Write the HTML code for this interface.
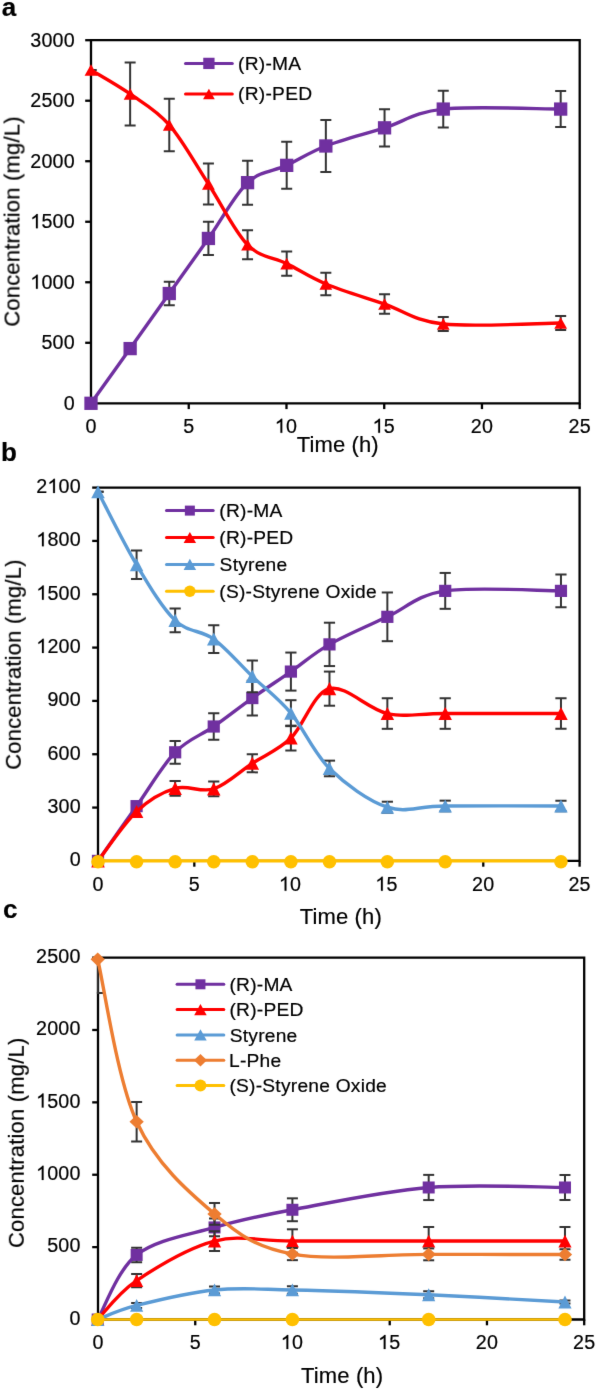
<!DOCTYPE html>
<html><head><meta charset="utf-8"><style>
html,body{margin:0;padding:0;background:#fff;overflow:hidden;}
svg{display:block;font-family:"Liberation Sans", sans-serif;}
text{will-change:transform;stroke:#000;stroke-width:0.2px;}
</style></head><body>
<svg width="597" height="1390" viewBox="0 0 597 1390">
<defs><filter id="bl" filterUnits="userSpaceOnUse" x="0" y="0" width="597" height="1390" color-interpolation-filters="sRGB"><feConvolveMatrix order="3" kernelMatrix="0.00524 0.06192 0.00524 0.06192 0.73137 0.06192 0.00524 0.06192 0.00524" divisor="1" preserveAlpha="false"/></filter></defs>
<g filter="url(#bl)">
<rect width="597" height="1390" fill="#fff"/>
<path d="M91.00,40.20 H579.70 V403.30 H91.00 Z" fill="none" stroke="#000" stroke-width="2.3"/>
<line x1="85.20" y1="403.30" x2="91.00" y2="403.30" stroke="#000" stroke-width="2.3" stroke-linecap="butt"/>
<line x1="85.20" y1="342.78" x2="91.00" y2="342.78" stroke="#000" stroke-width="2.3" stroke-linecap="butt"/>
<line x1="85.20" y1="282.27" x2="91.00" y2="282.27" stroke="#000" stroke-width="2.3" stroke-linecap="butt"/>
<line x1="85.20" y1="221.75" x2="91.00" y2="221.75" stroke="#000" stroke-width="2.3" stroke-linecap="butt"/>
<line x1="85.20" y1="161.23" x2="91.00" y2="161.23" stroke="#000" stroke-width="2.3" stroke-linecap="butt"/>
<line x1="85.20" y1="100.72" x2="91.00" y2="100.72" stroke="#000" stroke-width="2.3" stroke-linecap="butt"/>
<line x1="85.20" y1="40.20" x2="91.00" y2="40.20" stroke="#000" stroke-width="2.3" stroke-linecap="butt"/>
<line x1="91.00" y1="403.30" x2="91.00" y2="409.10" stroke="#000" stroke-width="2.3" stroke-linecap="butt"/>
<line x1="188.74" y1="403.30" x2="188.74" y2="409.10" stroke="#000" stroke-width="2.3" stroke-linecap="butt"/>
<line x1="286.48" y1="403.30" x2="286.48" y2="409.10" stroke="#000" stroke-width="2.3" stroke-linecap="butt"/>
<line x1="384.22" y1="403.30" x2="384.22" y2="409.10" stroke="#000" stroke-width="2.3" stroke-linecap="butt"/>
<line x1="481.96" y1="403.30" x2="481.96" y2="409.10" stroke="#000" stroke-width="2.3" stroke-linecap="butt"/>
<line x1="579.70" y1="403.30" x2="579.70" y2="409.10" stroke="#000" stroke-width="2.3" stroke-linecap="butt"/>
<clipPath id="ca"><rect x="89.85" y="40.20" width="491.00" height="363.10"/></clipPath>
<g clip-path="url(#ca)">
<line x1="169.28" y1="281.78" x2="169.28" y2="305.26" stroke="#333333" stroke-width="2" stroke-linecap="butt"/>
<line x1="163.78" y1="281.78" x2="174.78" y2="281.78" stroke="#333333" stroke-width="2" stroke-linecap="butt"/>
<line x1="163.78" y1="305.26" x2="174.78" y2="305.26" stroke="#333333" stroke-width="2" stroke-linecap="butt"/>
<line x1="208.42" y1="221.87" x2="208.42" y2="255.03" stroke="#333333" stroke-width="2" stroke-linecap="butt"/>
<line x1="202.92" y1="221.87" x2="213.92" y2="221.87" stroke="#333333" stroke-width="2" stroke-linecap="butt"/>
<line x1="202.92" y1="255.03" x2="213.92" y2="255.03" stroke="#333333" stroke-width="2" stroke-linecap="butt"/>
<line x1="247.56" y1="160.63" x2="247.56" y2="204.68" stroke="#333333" stroke-width="2" stroke-linecap="butt"/>
<line x1="242.06" y1="160.63" x2="253.06" y2="160.63" stroke="#333333" stroke-width="2" stroke-linecap="butt"/>
<line x1="242.06" y1="204.68" x2="253.06" y2="204.68" stroke="#333333" stroke-width="2" stroke-linecap="butt"/>
<line x1="286.70" y1="141.87" x2="286.70" y2="188.83" stroke="#333333" stroke-width="2" stroke-linecap="butt"/>
<line x1="281.20" y1="141.87" x2="292.20" y2="141.87" stroke="#333333" stroke-width="2" stroke-linecap="butt"/>
<line x1="281.20" y1="188.83" x2="292.20" y2="188.83" stroke="#333333" stroke-width="2" stroke-linecap="butt"/>
<line x1="325.84" y1="119.96" x2="325.84" y2="172.01" stroke="#333333" stroke-width="2" stroke-linecap="butt"/>
<line x1="320.34" y1="119.96" x2="331.34" y2="119.96" stroke="#333333" stroke-width="2" stroke-linecap="butt"/>
<line x1="320.34" y1="172.01" x2="331.34" y2="172.01" stroke="#333333" stroke-width="2" stroke-linecap="butt"/>
<line x1="384.55" y1="109.19" x2="384.55" y2="146.47" stroke="#333333" stroke-width="2" stroke-linecap="butt"/>
<line x1="379.05" y1="109.19" x2="390.05" y2="109.19" stroke="#333333" stroke-width="2" stroke-linecap="butt"/>
<line x1="379.05" y1="146.47" x2="390.05" y2="146.47" stroke="#333333" stroke-width="2" stroke-linecap="butt"/>
<line x1="443.26" y1="90.67" x2="443.26" y2="127.47" stroke="#333333" stroke-width="2" stroke-linecap="butt"/>
<line x1="437.76" y1="90.67" x2="448.76" y2="90.67" stroke="#333333" stroke-width="2" stroke-linecap="butt"/>
<line x1="437.76" y1="127.47" x2="448.76" y2="127.47" stroke="#333333" stroke-width="2" stroke-linecap="butt"/>
<line x1="560.68" y1="91.03" x2="560.68" y2="127.10" stroke="#333333" stroke-width="2" stroke-linecap="butt"/>
<line x1="555.18" y1="91.03" x2="566.18" y2="91.03" stroke="#333333" stroke-width="2" stroke-linecap="butt"/>
<line x1="555.18" y1="127.10" x2="566.18" y2="127.10" stroke="#333333" stroke-width="2" stroke-linecap="butt"/>
</g>
<path d="M91.00,403.30 C97.52,394.18 117.09,366.89 130.14,348.59 C143.19,330.30 156.23,311.88 169.28,293.52 C182.33,275.17 195.37,256.93 208.42,238.45 C221.47,219.97 234.51,194.84 247.56,182.66 C260.61,170.47 273.65,171.46 286.70,165.35 C299.75,159.24 309.53,152.24 325.84,145.98 C342.15,139.73 364.98,133.98 384.55,127.83 C404.12,121.68 413.90,112.19 443.26,109.07 C472.62,105.94 541.11,109.07 560.68,109.07" fill="none" stroke="#7030A0" stroke-width="3.4" stroke-linejoin="round"/>
<rect x="84.35" y="396.65" width="13.3" height="13.3" fill="#7030A0"/>
<rect x="123.49" y="341.94" width="13.3" height="13.3" fill="#7030A0"/>
<rect x="162.63" y="286.87" width="13.3" height="13.3" fill="#7030A0"/>
<rect x="201.77" y="231.80" width="13.3" height="13.3" fill="#7030A0"/>
<rect x="240.91" y="176.01" width="13.3" height="13.3" fill="#7030A0"/>
<rect x="280.05" y="158.70" width="13.3" height="13.3" fill="#7030A0"/>
<rect x="319.19" y="139.33" width="13.3" height="13.3" fill="#7030A0"/>
<rect x="377.90" y="121.18" width="13.3" height="13.3" fill="#7030A0"/>
<rect x="436.61" y="102.42" width="13.3" height="13.3" fill="#7030A0"/>
<rect x="554.03" y="102.42" width="13.3" height="13.3" fill="#7030A0"/>
<g clip-path="url(#ca)">
<line x1="91.00" y1="69.97" x2="91.00" y2="69.98" stroke="#333333" stroke-width="2" stroke-linecap="butt"/>
<line x1="85.50" y1="69.97" x2="96.50" y2="69.97" stroke="#333333" stroke-width="2" stroke-linecap="butt"/>
<line x1="85.50" y1="69.98" x2="96.50" y2="69.98" stroke="#333333" stroke-width="2" stroke-linecap="butt"/>
<line x1="130.14" y1="62.47" x2="130.14" y2="125.41" stroke="#333333" stroke-width="2" stroke-linecap="butt"/>
<line x1="124.64" y1="62.47" x2="135.64" y2="62.47" stroke="#333333" stroke-width="2" stroke-linecap="butt"/>
<line x1="124.64" y1="125.41" x2="135.64" y2="125.41" stroke="#333333" stroke-width="2" stroke-linecap="butt"/>
<line x1="169.28" y1="98.66" x2="169.28" y2="151.19" stroke="#333333" stroke-width="2" stroke-linecap="butt"/>
<line x1="163.78" y1="98.66" x2="174.78" y2="98.66" stroke="#333333" stroke-width="2" stroke-linecap="butt"/>
<line x1="163.78" y1="151.19" x2="174.78" y2="151.19" stroke="#333333" stroke-width="2" stroke-linecap="butt"/>
<line x1="208.42" y1="163.41" x2="208.42" y2="204.56" stroke="#333333" stroke-width="2" stroke-linecap="butt"/>
<line x1="202.92" y1="163.41" x2="213.92" y2="163.41" stroke="#333333" stroke-width="2" stroke-linecap="butt"/>
<line x1="202.92" y1="204.56" x2="213.92" y2="204.56" stroke="#333333" stroke-width="2" stroke-linecap="butt"/>
<line x1="247.56" y1="230.22" x2="247.56" y2="259.27" stroke="#333333" stroke-width="2" stroke-linecap="butt"/>
<line x1="242.06" y1="230.22" x2="253.06" y2="230.22" stroke="#333333" stroke-width="2" stroke-linecap="butt"/>
<line x1="242.06" y1="259.27" x2="253.06" y2="259.27" stroke="#333333" stroke-width="2" stroke-linecap="butt"/>
<line x1="286.70" y1="251.52" x2="286.70" y2="275.73" stroke="#333333" stroke-width="2" stroke-linecap="butt"/>
<line x1="281.20" y1="251.52" x2="292.20" y2="251.52" stroke="#333333" stroke-width="2" stroke-linecap="butt"/>
<line x1="281.20" y1="275.73" x2="292.20" y2="275.73" stroke="#333333" stroke-width="2" stroke-linecap="butt"/>
<line x1="325.84" y1="272.71" x2="325.84" y2="295.22" stroke="#333333" stroke-width="2" stroke-linecap="butt"/>
<line x1="320.34" y1="272.71" x2="331.34" y2="272.71" stroke="#333333" stroke-width="2" stroke-linecap="butt"/>
<line x1="320.34" y1="295.22" x2="331.34" y2="295.22" stroke="#333333" stroke-width="2" stroke-linecap="butt"/>
<line x1="384.55" y1="294.37" x2="384.55" y2="313.74" stroke="#333333" stroke-width="2" stroke-linecap="butt"/>
<line x1="379.05" y1="294.37" x2="390.05" y2="294.37" stroke="#333333" stroke-width="2" stroke-linecap="butt"/>
<line x1="379.05" y1="313.74" x2="390.05" y2="313.74" stroke="#333333" stroke-width="2" stroke-linecap="butt"/>
<line x1="443.26" y1="317.00" x2="443.26" y2="331.04" stroke="#333333" stroke-width="2" stroke-linecap="butt"/>
<line x1="437.76" y1="317.00" x2="448.76" y2="317.00" stroke="#333333" stroke-width="2" stroke-linecap="butt"/>
<line x1="437.76" y1="331.04" x2="448.76" y2="331.04" stroke="#333333" stroke-width="2" stroke-linecap="butt"/>
<line x1="560.68" y1="316.03" x2="560.68" y2="330.07" stroke="#333333" stroke-width="2" stroke-linecap="butt"/>
<line x1="555.18" y1="316.03" x2="566.18" y2="316.03" stroke="#333333" stroke-width="2" stroke-linecap="butt"/>
<line x1="555.18" y1="330.07" x2="566.18" y2="330.07" stroke="#333333" stroke-width="2" stroke-linecap="butt"/>
</g>
<path d="M91.00,69.97 C97.52,73.97 117.09,84.78 130.14,93.94 C143.19,103.10 156.23,109.92 169.28,124.92 C182.33,139.93 195.37,164.02 208.42,183.99 C221.47,203.96 234.51,231.47 247.56,244.75 C260.61,258.02 273.65,257.09 286.70,263.63 C299.75,270.16 309.53,277.22 325.84,283.96 C342.15,290.70 364.98,297.38 384.55,304.05 C404.12,310.73 413.90,320.86 443.26,324.02 C472.62,327.19 541.11,323.22 560.68,323.05" fill="none" stroke="#FF0000" stroke-width="3.4" stroke-linejoin="round"/>
<path d="M91.00,64.21 L97.40,75.73 L84.60,75.73Z" fill="#FF0000"/>
<path d="M130.14,88.18 L136.54,99.70 L123.74,99.70Z" fill="#FF0000"/>
<path d="M169.28,119.16 L175.68,130.68 L162.88,130.68Z" fill="#FF0000"/>
<path d="M208.42,178.23 L214.82,189.75 L202.02,189.75Z" fill="#FF0000"/>
<path d="M247.56,238.99 L253.96,250.51 L241.16,250.51Z" fill="#FF0000"/>
<path d="M286.70,257.87 L293.10,269.39 L280.30,269.39Z" fill="#FF0000"/>
<path d="M325.84,278.20 L332.24,289.72 L319.44,289.72Z" fill="#FF0000"/>
<path d="M384.55,298.29 L390.95,309.81 L378.15,309.81Z" fill="#FF0000"/>
<path d="M443.26,318.26 L449.66,329.78 L436.86,329.78Z" fill="#FF0000"/>
<path d="M560.68,317.29 L567.08,328.81 L554.28,328.81Z" fill="#FF0000"/>
<text x="63.72" y="409.78" font-size="19.7" fill="#000">0</text>
<text x="41.40" y="349.26" font-size="19.7" fill="#000">5</text>
<text x="52.56" y="349.26" font-size="19.7" fill="#000">0</text>
<text x="63.72" y="349.26" font-size="19.7" fill="#000">0</text>
<path transform="translate(30.25,288.74) scale(19.7)" d="M0.381,0 V-0.716 H0.323 Q0.29,-0.64 0.109,-0.545 V-0.458 Q0.21,-0.5 0.291,-0.566 V0 Z" fill="#000" stroke="#000" stroke-width="0.0102"/>
<text x="41.40" y="288.74" font-size="19.7" fill="#000">0</text>
<text x="52.56" y="288.74" font-size="19.7" fill="#000">0</text>
<text x="63.72" y="288.74" font-size="19.7" fill="#000">0</text>
<path transform="translate(30.25,228.23) scale(19.7)" d="M0.381,0 V-0.716 H0.323 Q0.29,-0.64 0.109,-0.545 V-0.458 Q0.21,-0.5 0.291,-0.566 V0 Z" fill="#000" stroke="#000" stroke-width="0.0102"/>
<text x="41.40" y="228.23" font-size="19.7" fill="#000">5</text>
<text x="52.56" y="228.23" font-size="19.7" fill="#000">0</text>
<text x="63.72" y="228.23" font-size="19.7" fill="#000">0</text>
<text x="30.25" y="167.71" font-size="19.7" fill="#000">2</text>
<text x="41.40" y="167.71" font-size="19.7" fill="#000">0</text>
<text x="52.56" y="167.71" font-size="19.7" fill="#000">0</text>
<text x="63.72" y="167.71" font-size="19.7" fill="#000">0</text>
<text x="30.25" y="107.19" font-size="19.7" fill="#000">2</text>
<text x="41.40" y="107.19" font-size="19.7" fill="#000">5</text>
<text x="52.56" y="107.19" font-size="19.7" fill="#000">0</text>
<text x="63.72" y="107.19" font-size="19.7" fill="#000">0</text>
<text x="30.25" y="46.68" font-size="19.7" fill="#000">3</text>
<text x="41.40" y="46.68" font-size="19.7" fill="#000">0</text>
<text x="52.56" y="46.68" font-size="19.7" fill="#000">0</text>
<text x="63.72" y="46.68" font-size="19.7" fill="#000">0</text>
<text x="85.52" y="432.85" font-size="19.7" fill="#000">0</text>
<text x="183.28" y="432.85" font-size="19.7" fill="#000">5</text>
<path transform="translate(274.74,432.85) scale(19.7)" d="M0.381,0 V-0.716 H0.323 Q0.29,-0.64 0.109,-0.545 V-0.458 Q0.21,-0.5 0.291,-0.566 V0 Z" fill="#000" stroke="#000" stroke-width="0.0102"/>
<text x="285.89" y="432.85" font-size="19.7" fill="#000">0</text>
<path transform="translate(372.51,432.85) scale(19.7)" d="M0.381,0 V-0.716 H0.323 Q0.29,-0.64 0.109,-0.545 V-0.458 Q0.21,-0.5 0.291,-0.566 V0 Z" fill="#000" stroke="#000" stroke-width="0.0102"/>
<text x="383.66" y="432.85" font-size="19.7" fill="#000">5</text>
<text x="470.80" y="432.85" font-size="19.7" fill="#000">2</text>
<text x="481.95" y="432.85" font-size="19.7" fill="#000">0</text>
<text x="568.57" y="432.85" font-size="19.7" fill="#000">2</text>
<text x="579.72" y="432.85" font-size="19.7" fill="#000">5</text>
<line x1="185.50" y1="63.40" x2="232.30" y2="63.40" stroke="#7030A0" stroke-width="3" stroke-linecap="round"/>
<rect x="203.25" y="57.75" width="11.3" height="11.3" fill="#7030A0"/>
<text x="238.11" y="69.80" font-size="19.2" letter-spacing="0.24" fill="#000">(R)-MA</text>
<line x1="185.50" y1="94.00" x2="232.30" y2="94.00" stroke="#FF0000" stroke-width="3" stroke-linecap="round"/>
<path d="M208.90,88.73 L214.75,99.27 L203.05,99.27Z" fill="#FF0000"/>
<text x="238.11" y="100.40" font-size="19.2" letter-spacing="0.24" fill="#000">(R)-PED</text>
<path d="M98.00,487.60 H579.60 V860.90 H98.00 Z" fill="none" stroke="#000" stroke-width="2.3"/>
<line x1="92.20" y1="860.90" x2="98.00" y2="860.90" stroke="#000" stroke-width="2.3" stroke-linecap="butt"/>
<line x1="92.20" y1="807.57" x2="98.00" y2="807.57" stroke="#000" stroke-width="2.3" stroke-linecap="butt"/>
<line x1="92.20" y1="754.24" x2="98.00" y2="754.24" stroke="#000" stroke-width="2.3" stroke-linecap="butt"/>
<line x1="92.20" y1="700.91" x2="98.00" y2="700.91" stroke="#000" stroke-width="2.3" stroke-linecap="butt"/>
<line x1="92.20" y1="647.59" x2="98.00" y2="647.59" stroke="#000" stroke-width="2.3" stroke-linecap="butt"/>
<line x1="92.20" y1="594.26" x2="98.00" y2="594.26" stroke="#000" stroke-width="2.3" stroke-linecap="butt"/>
<line x1="92.20" y1="540.93" x2="98.00" y2="540.93" stroke="#000" stroke-width="2.3" stroke-linecap="butt"/>
<line x1="92.20" y1="487.60" x2="98.00" y2="487.60" stroke="#000" stroke-width="2.3" stroke-linecap="butt"/>
<line x1="98.00" y1="860.90" x2="98.00" y2="866.70" stroke="#000" stroke-width="2.3" stroke-linecap="butt"/>
<line x1="194.32" y1="860.90" x2="194.32" y2="866.70" stroke="#000" stroke-width="2.3" stroke-linecap="butt"/>
<line x1="290.64" y1="860.90" x2="290.64" y2="866.70" stroke="#000" stroke-width="2.3" stroke-linecap="butt"/>
<line x1="386.96" y1="860.90" x2="386.96" y2="866.70" stroke="#000" stroke-width="2.3" stroke-linecap="butt"/>
<line x1="483.28" y1="860.90" x2="483.28" y2="866.70" stroke="#000" stroke-width="2.3" stroke-linecap="butt"/>
<line x1="579.60" y1="860.90" x2="579.60" y2="866.70" stroke="#000" stroke-width="2.3" stroke-linecap="butt"/>
<clipPath id="cb"><rect x="96.85" y="487.60" width="483.90" height="373.30"/></clipPath>
<g clip-path="url(#cb)">
<line x1="175.16" y1="740.91" x2="175.16" y2="763.66" stroke="#333333" stroke-width="2" stroke-linecap="butt"/>
<line x1="169.56" y1="740.91" x2="180.76" y2="740.91" stroke="#333333" stroke-width="2" stroke-linecap="butt"/>
<line x1="169.56" y1="763.66" x2="180.76" y2="763.66" stroke="#333333" stroke-width="2" stroke-linecap="butt"/>
<line x1="213.74" y1="713.18" x2="213.74" y2="739.84" stroke="#333333" stroke-width="2" stroke-linecap="butt"/>
<line x1="208.14" y1="713.18" x2="219.34" y2="713.18" stroke="#333333" stroke-width="2" stroke-linecap="butt"/>
<line x1="208.14" y1="739.84" x2="219.34" y2="739.84" stroke="#333333" stroke-width="2" stroke-linecap="butt"/>
<line x1="252.32" y1="680.65" x2="252.32" y2="715.49" stroke="#333333" stroke-width="2" stroke-linecap="butt"/>
<line x1="246.72" y1="680.65" x2="257.92" y2="680.65" stroke="#333333" stroke-width="2" stroke-linecap="butt"/>
<line x1="246.72" y1="715.49" x2="257.92" y2="715.49" stroke="#333333" stroke-width="2" stroke-linecap="butt"/>
<line x1="290.90" y1="652.56" x2="290.90" y2="690.60" stroke="#333333" stroke-width="2" stroke-linecap="butt"/>
<line x1="285.30" y1="652.56" x2="296.50" y2="652.56" stroke="#333333" stroke-width="2" stroke-linecap="butt"/>
<line x1="285.30" y1="690.60" x2="296.50" y2="690.60" stroke="#333333" stroke-width="2" stroke-linecap="butt"/>
<line x1="329.48" y1="622.70" x2="329.48" y2="666.07" stroke="#333333" stroke-width="2" stroke-linecap="butt"/>
<line x1="323.88" y1="622.70" x2="335.08" y2="622.70" stroke="#333333" stroke-width="2" stroke-linecap="butt"/>
<line x1="323.88" y1="666.07" x2="335.08" y2="666.07" stroke="#333333" stroke-width="2" stroke-linecap="butt"/>
<line x1="387.35" y1="592.48" x2="387.35" y2="641.19" stroke="#333333" stroke-width="2" stroke-linecap="butt"/>
<line x1="381.75" y1="592.48" x2="392.95" y2="592.48" stroke="#333333" stroke-width="2" stroke-linecap="butt"/>
<line x1="381.75" y1="641.19" x2="392.95" y2="641.19" stroke="#333333" stroke-width="2" stroke-linecap="butt"/>
<line x1="445.22" y1="572.93" x2="445.22" y2="608.83" stroke="#333333" stroke-width="2" stroke-linecap="butt"/>
<line x1="439.62" y1="572.93" x2="450.82" y2="572.93" stroke="#333333" stroke-width="2" stroke-linecap="butt"/>
<line x1="439.62" y1="608.83" x2="450.82" y2="608.83" stroke="#333333" stroke-width="2" stroke-linecap="butt"/>
<line x1="560.96" y1="574.53" x2="560.96" y2="607.23" stroke="#333333" stroke-width="2" stroke-linecap="butt"/>
<line x1="555.36" y1="574.53" x2="566.56" y2="574.53" stroke="#333333" stroke-width="2" stroke-linecap="butt"/>
<line x1="555.36" y1="607.23" x2="566.56" y2="607.23" stroke="#333333" stroke-width="2" stroke-linecap="butt"/>
</g>
<path d="M98.00,860.90 C104.43,851.77 123.72,824.25 136.58,806.15 C149.44,788.05 162.30,765.56 175.16,752.29 C188.02,739.01 200.88,735.55 213.74,726.51 C226.60,717.48 239.46,707.22 252.32,698.07 C265.18,688.92 278.04,680.53 290.90,671.58 C303.76,662.64 313.41,653.51 329.48,644.39 C345.56,635.26 368.06,625.75 387.35,616.83 C406.64,607.92 416.28,595.21 445.22,590.88 C474.15,586.55 541.67,590.88 560.96,590.88" fill="none" stroke="#7030A0" stroke-width="3.4" stroke-linejoin="round"/>
<rect x="91.90" y="854.80" width="12.2" height="12.2" fill="#7030A0"/>
<rect x="130.48" y="800.05" width="12.2" height="12.2" fill="#7030A0"/>
<rect x="169.06" y="746.19" width="12.2" height="12.2" fill="#7030A0"/>
<rect x="207.64" y="720.41" width="12.2" height="12.2" fill="#7030A0"/>
<rect x="246.22" y="691.97" width="12.2" height="12.2" fill="#7030A0"/>
<rect x="284.80" y="665.48" width="12.2" height="12.2" fill="#7030A0"/>
<rect x="323.38" y="638.29" width="12.2" height="12.2" fill="#7030A0"/>
<rect x="381.25" y="610.73" width="12.2" height="12.2" fill="#7030A0"/>
<rect x="439.12" y="584.78" width="12.2" height="12.2" fill="#7030A0"/>
<rect x="554.86" y="584.78" width="12.2" height="12.2" fill="#7030A0"/>
<g clip-path="url(#cb)">
<line x1="175.16" y1="780.91" x2="175.16" y2="795.84" stroke="#333333" stroke-width="2" stroke-linecap="butt"/>
<line x1="169.56" y1="780.91" x2="180.76" y2="780.91" stroke="#333333" stroke-width="2" stroke-linecap="butt"/>
<line x1="169.56" y1="795.84" x2="180.76" y2="795.84" stroke="#333333" stroke-width="2" stroke-linecap="butt"/>
<line x1="213.74" y1="781.62" x2="213.74" y2="796.19" stroke="#333333" stroke-width="2" stroke-linecap="butt"/>
<line x1="208.14" y1="781.62" x2="219.34" y2="781.62" stroke="#333333" stroke-width="2" stroke-linecap="butt"/>
<line x1="208.14" y1="796.19" x2="219.34" y2="796.19" stroke="#333333" stroke-width="2" stroke-linecap="butt"/>
<line x1="252.32" y1="754.24" x2="252.32" y2="772.37" stroke="#333333" stroke-width="2" stroke-linecap="butt"/>
<line x1="246.72" y1="754.24" x2="257.92" y2="754.24" stroke="#333333" stroke-width="2" stroke-linecap="butt"/>
<line x1="246.72" y1="772.37" x2="257.92" y2="772.37" stroke="#333333" stroke-width="2" stroke-linecap="butt"/>
<line x1="290.90" y1="725.62" x2="290.90" y2="750.51" stroke="#333333" stroke-width="2" stroke-linecap="butt"/>
<line x1="285.30" y1="725.62" x2="296.50" y2="725.62" stroke="#333333" stroke-width="2" stroke-linecap="butt"/>
<line x1="285.30" y1="750.51" x2="296.50" y2="750.51" stroke="#333333" stroke-width="2" stroke-linecap="butt"/>
<line x1="329.48" y1="671.58" x2="329.48" y2="705.71" stroke="#333333" stroke-width="2" stroke-linecap="butt"/>
<line x1="323.88" y1="671.58" x2="335.08" y2="671.58" stroke="#333333" stroke-width="2" stroke-linecap="butt"/>
<line x1="323.88" y1="705.71" x2="335.08" y2="705.71" stroke="#333333" stroke-width="2" stroke-linecap="butt"/>
<line x1="387.35" y1="698.25" x2="387.35" y2="728.82" stroke="#333333" stroke-width="2" stroke-linecap="butt"/>
<line x1="381.75" y1="698.25" x2="392.95" y2="698.25" stroke="#333333" stroke-width="2" stroke-linecap="butt"/>
<line x1="381.75" y1="728.82" x2="392.95" y2="728.82" stroke="#333333" stroke-width="2" stroke-linecap="butt"/>
<line x1="445.22" y1="698.25" x2="445.22" y2="728.82" stroke="#333333" stroke-width="2" stroke-linecap="butt"/>
<line x1="439.62" y1="698.25" x2="450.82" y2="698.25" stroke="#333333" stroke-width="2" stroke-linecap="butt"/>
<line x1="439.62" y1="728.82" x2="450.82" y2="728.82" stroke="#333333" stroke-width="2" stroke-linecap="butt"/>
<line x1="560.96" y1="698.25" x2="560.96" y2="728.82" stroke="#333333" stroke-width="2" stroke-linecap="butt"/>
<line x1="555.36" y1="698.25" x2="566.56" y2="698.25" stroke="#333333" stroke-width="2" stroke-linecap="butt"/>
<line x1="555.36" y1="728.82" x2="566.56" y2="728.82" stroke="#333333" stroke-width="2" stroke-linecap="butt"/>
</g>
<path d="M98.00,860.90 C104.43,852.66 123.72,823.57 136.58,811.48 C149.44,799.39 162.30,792.14 175.16,788.37 C188.02,784.61 200.88,793.08 213.74,788.91 C226.60,784.73 239.46,771.78 252.32,763.31 C265.18,754.84 278.04,750.51 290.90,738.07 C303.76,725.62 313.41,692.74 329.48,688.65 C345.56,684.56 368.06,709.39 387.35,713.54 C406.64,717.68 416.28,713.54 445.22,713.54 C474.15,713.54 541.67,713.54 560.96,713.54" fill="none" stroke="#FF0000" stroke-width="3.4" stroke-linejoin="round"/>
<path d="M98.00,854.35 L104.75,867.45 L91.25,867.45Z" fill="#FF0000"/>
<path d="M136.58,804.93 L143.33,818.03 L129.83,818.03Z" fill="#FF0000"/>
<path d="M175.16,781.83 L181.91,794.92 L168.41,794.92Z" fill="#FF0000"/>
<path d="M213.74,782.36 L220.49,795.45 L206.99,795.45Z" fill="#FF0000"/>
<path d="M252.32,756.76 L259.07,769.86 L245.57,769.86Z" fill="#FF0000"/>
<path d="M290.90,731.52 L297.65,744.61 L284.15,744.61Z" fill="#FF0000"/>
<path d="M329.48,682.10 L336.23,695.20 L322.73,695.20Z" fill="#FF0000"/>
<path d="M387.35,706.99 L394.10,720.08 L380.60,720.08Z" fill="#FF0000"/>
<path d="M445.22,706.99 L451.97,720.08 L438.47,720.08Z" fill="#FF0000"/>
<path d="M560.96,706.99 L567.71,720.08 L554.21,720.08Z" fill="#FF0000"/>
<g clip-path="url(#cb)">
<line x1="98.00" y1="491.69" x2="98.00" y2="491.69" stroke="#333333" stroke-width="2" stroke-linecap="butt"/>
<line x1="92.40" y1="491.69" x2="103.60" y2="491.69" stroke="#333333" stroke-width="2" stroke-linecap="butt"/>
<line x1="92.40" y1="491.69" x2="103.60" y2="491.69" stroke="#333333" stroke-width="2" stroke-linecap="butt"/>
<line x1="136.58" y1="550.53" x2="136.58" y2="578.97" stroke="#333333" stroke-width="2" stroke-linecap="butt"/>
<line x1="130.98" y1="550.53" x2="142.18" y2="550.53" stroke="#333333" stroke-width="2" stroke-linecap="butt"/>
<line x1="130.98" y1="578.97" x2="142.18" y2="578.97" stroke="#333333" stroke-width="2" stroke-linecap="butt"/>
<line x1="175.16" y1="608.48" x2="175.16" y2="632.30" stroke="#333333" stroke-width="2" stroke-linecap="butt"/>
<line x1="169.56" y1="608.48" x2="180.76" y2="608.48" stroke="#333333" stroke-width="2" stroke-linecap="butt"/>
<line x1="169.56" y1="632.30" x2="180.76" y2="632.30" stroke="#333333" stroke-width="2" stroke-linecap="butt"/>
<line x1="213.74" y1="625.19" x2="213.74" y2="652.92" stroke="#333333" stroke-width="2" stroke-linecap="butt"/>
<line x1="208.14" y1="625.19" x2="219.34" y2="625.19" stroke="#333333" stroke-width="2" stroke-linecap="butt"/>
<line x1="208.14" y1="652.92" x2="219.34" y2="652.92" stroke="#333333" stroke-width="2" stroke-linecap="butt"/>
<line x1="252.32" y1="660.56" x2="252.32" y2="692.20" stroke="#333333" stroke-width="2" stroke-linecap="butt"/>
<line x1="246.72" y1="660.56" x2="257.92" y2="660.56" stroke="#333333" stroke-width="2" stroke-linecap="butt"/>
<line x1="246.72" y1="692.20" x2="257.92" y2="692.20" stroke="#333333" stroke-width="2" stroke-linecap="butt"/>
<line x1="290.90" y1="700.20" x2="290.90" y2="726.16" stroke="#333333" stroke-width="2" stroke-linecap="butt"/>
<line x1="285.30" y1="700.20" x2="296.50" y2="700.20" stroke="#333333" stroke-width="2" stroke-linecap="butt"/>
<line x1="285.30" y1="726.16" x2="296.50" y2="726.16" stroke="#333333" stroke-width="2" stroke-linecap="butt"/>
<line x1="329.48" y1="760.64" x2="329.48" y2="776.29" stroke="#333333" stroke-width="2" stroke-linecap="butt"/>
<line x1="323.88" y1="760.64" x2="335.08" y2="760.64" stroke="#333333" stroke-width="2" stroke-linecap="butt"/>
<line x1="323.88" y1="776.29" x2="335.08" y2="776.29" stroke="#333333" stroke-width="2" stroke-linecap="butt"/>
<line x1="387.35" y1="801.71" x2="387.35" y2="812.73" stroke="#333333" stroke-width="2" stroke-linecap="butt"/>
<line x1="381.75" y1="801.71" x2="392.95" y2="801.71" stroke="#333333" stroke-width="2" stroke-linecap="butt"/>
<line x1="381.75" y1="812.73" x2="392.95" y2="812.73" stroke="#333333" stroke-width="2" stroke-linecap="butt"/>
<line x1="445.22" y1="800.64" x2="445.22" y2="811.30" stroke="#333333" stroke-width="2" stroke-linecap="butt"/>
<line x1="439.62" y1="800.64" x2="450.82" y2="800.64" stroke="#333333" stroke-width="2" stroke-linecap="butt"/>
<line x1="439.62" y1="811.30" x2="450.82" y2="811.30" stroke="#333333" stroke-width="2" stroke-linecap="butt"/>
<line x1="560.96" y1="800.64" x2="560.96" y2="811.30" stroke="#333333" stroke-width="2" stroke-linecap="butt"/>
<line x1="555.36" y1="800.64" x2="566.56" y2="800.64" stroke="#333333" stroke-width="2" stroke-linecap="butt"/>
<line x1="555.36" y1="811.30" x2="566.56" y2="811.30" stroke="#333333" stroke-width="2" stroke-linecap="butt"/>
</g>
<path d="M98.00,491.69 C104.43,503.87 123.72,543.30 136.58,564.75 C149.44,586.20 162.30,608.00 175.16,620.39 C188.02,632.77 200.88,629.72 213.74,639.05 C226.60,648.39 239.46,664.03 252.32,676.38 C265.18,688.74 278.04,697.83 290.90,713.18 C303.76,728.53 313.41,752.79 329.48,768.46 C345.56,784.14 368.06,800.96 387.35,807.22 C406.64,813.47 416.28,806.18 445.22,805.97 C474.15,805.76 541.67,805.97 560.96,805.97" fill="none" stroke="#5B9BD5" stroke-width="3.4" stroke-linejoin="round"/>
<path d="M98.00,485.14 L104.75,498.24 L91.25,498.24Z" fill="#5B9BD5"/>
<path d="M136.58,558.20 L143.33,571.30 L129.83,571.30Z" fill="#5B9BD5"/>
<path d="M175.16,613.84 L181.91,626.94 L168.41,626.94Z" fill="#5B9BD5"/>
<path d="M213.74,632.51 L220.49,645.60 L206.99,645.60Z" fill="#5B9BD5"/>
<path d="M252.32,669.84 L259.07,682.93 L245.57,682.93Z" fill="#5B9BD5"/>
<path d="M290.90,706.63 L297.65,719.73 L284.15,719.73Z" fill="#5B9BD5"/>
<path d="M329.48,761.92 L336.23,775.01 L322.73,775.01Z" fill="#5B9BD5"/>
<path d="M387.35,800.67 L394.10,813.76 L380.60,813.76Z" fill="#5B9BD5"/>
<path d="M445.22,799.42 L451.97,812.52 L438.47,812.52Z" fill="#5B9BD5"/>
<path d="M560.96,799.42 L567.71,812.52 L554.21,812.52Z" fill="#5B9BD5"/>
<g clip-path="url(#cb)">
</g>
<path d="M98.00,860.90 C104.43,860.90 123.72,860.90 136.58,860.90 C149.44,860.90 162.30,860.90 175.16,860.90 C188.02,860.90 200.88,860.90 213.74,860.90 C226.60,860.90 239.46,860.90 252.32,860.90 C265.18,860.90 278.04,860.90 290.90,860.90 C303.76,860.90 313.41,860.90 329.48,860.90 C345.56,860.90 368.06,860.90 387.35,860.90 C406.64,860.90 416.28,860.90 445.22,860.90 C474.15,860.90 541.67,860.90 560.96,860.90" fill="none" stroke="#FFC000" stroke-width="3.4" stroke-linejoin="round"/>
<circle cx="98.00" cy="861.70" r="6.80" fill="#FFC000"/>
<circle cx="136.58" cy="861.70" r="6.80" fill="#FFC000"/>
<circle cx="175.16" cy="861.70" r="6.80" fill="#FFC000"/>
<circle cx="213.74" cy="861.70" r="6.80" fill="#FFC000"/>
<circle cx="252.32" cy="861.70" r="6.80" fill="#FFC000"/>
<circle cx="290.90" cy="861.70" r="6.80" fill="#FFC000"/>
<circle cx="329.48" cy="861.70" r="6.80" fill="#FFC000"/>
<circle cx="387.35" cy="861.70" r="6.80" fill="#FFC000"/>
<circle cx="445.22" cy="861.70" r="6.80" fill="#FFC000"/>
<circle cx="560.96" cy="861.70" r="6.80" fill="#FFC000"/>
<text x="69.72" y="866.28" font-size="19.7" fill="#000">0</text>
<text x="47.40" y="812.95" font-size="19.7" fill="#000">3</text>
<text x="58.56" y="812.95" font-size="19.7" fill="#000">0</text>
<text x="69.72" y="812.95" font-size="19.7" fill="#000">0</text>
<text x="47.40" y="759.62" font-size="19.7" fill="#000">6</text>
<text x="58.56" y="759.62" font-size="19.7" fill="#000">0</text>
<text x="69.72" y="759.62" font-size="19.7" fill="#000">0</text>
<text x="47.40" y="706.29" font-size="19.7" fill="#000">9</text>
<text x="58.56" y="706.29" font-size="19.7" fill="#000">0</text>
<text x="69.72" y="706.29" font-size="19.7" fill="#000">0</text>
<path transform="translate(36.25,652.96) scale(19.7)" d="M0.381,0 V-0.716 H0.323 Q0.29,-0.64 0.109,-0.545 V-0.458 Q0.21,-0.5 0.291,-0.566 V0 Z" fill="#000" stroke="#000" stroke-width="0.0102"/>
<text x="47.40" y="652.96" font-size="19.7" fill="#000">2</text>
<text x="58.56" y="652.96" font-size="19.7" fill="#000">0</text>
<text x="69.72" y="652.96" font-size="19.7" fill="#000">0</text>
<path transform="translate(36.25,599.63) scale(19.7)" d="M0.381,0 V-0.716 H0.323 Q0.29,-0.64 0.109,-0.545 V-0.458 Q0.21,-0.5 0.291,-0.566 V0 Z" fill="#000" stroke="#000" stroke-width="0.0102"/>
<text x="47.40" y="599.63" font-size="19.7" fill="#000">5</text>
<text x="58.56" y="599.63" font-size="19.7" fill="#000">0</text>
<text x="69.72" y="599.63" font-size="19.7" fill="#000">0</text>
<path transform="translate(36.25,546.31) scale(19.7)" d="M0.381,0 V-0.716 H0.323 Q0.29,-0.64 0.109,-0.545 V-0.458 Q0.21,-0.5 0.291,-0.566 V0 Z" fill="#000" stroke="#000" stroke-width="0.0102"/>
<text x="47.40" y="546.31" font-size="19.7" fill="#000">8</text>
<text x="58.56" y="546.31" font-size="19.7" fill="#000">0</text>
<text x="69.72" y="546.31" font-size="19.7" fill="#000">0</text>
<text x="36.25" y="492.98" font-size="19.7" fill="#000">2</text>
<path transform="translate(47.40,492.98) scale(19.7)" d="M0.381,0 V-0.716 H0.323 Q0.29,-0.64 0.109,-0.545 V-0.458 Q0.21,-0.5 0.291,-0.566 V0 Z" fill="#000" stroke="#000" stroke-width="0.0102"/>
<text x="58.56" y="492.98" font-size="19.7" fill="#000">0</text>
<text x="69.72" y="492.98" font-size="19.7" fill="#000">0</text>
<text x="92.52" y="890.75" font-size="19.7" fill="#000">0</text>
<text x="188.86" y="890.75" font-size="19.7" fill="#000">5</text>
<path transform="translate(278.90,890.75) scale(19.7)" d="M0.381,0 V-0.716 H0.323 Q0.29,-0.64 0.109,-0.545 V-0.458 Q0.21,-0.5 0.291,-0.566 V0 Z" fill="#000" stroke="#000" stroke-width="0.0102"/>
<text x="290.05" y="890.75" font-size="19.7" fill="#000">0</text>
<path transform="translate(375.25,890.75) scale(19.7)" d="M0.381,0 V-0.716 H0.323 Q0.29,-0.64 0.109,-0.545 V-0.458 Q0.21,-0.5 0.291,-0.566 V0 Z" fill="#000" stroke="#000" stroke-width="0.0102"/>
<text x="386.40" y="890.75" font-size="19.7" fill="#000">5</text>
<text x="472.12" y="890.75" font-size="19.7" fill="#000">2</text>
<text x="483.27" y="890.75" font-size="19.7" fill="#000">0</text>
<text x="568.47" y="890.75" font-size="19.7" fill="#000">2</text>
<text x="579.62" y="890.75" font-size="19.7" fill="#000">5</text>
<line x1="166.50" y1="510.60" x2="213.20" y2="510.60" stroke="#7030A0" stroke-width="3" stroke-linecap="round"/>
<rect x="184.85" y="505.60" width="10" height="10" fill="#7030A0"/>
<text x="219.31" y="517.00" font-size="19.2" letter-spacing="0.24" fill="#000">(R)-MA</text>
<line x1="166.50" y1="537.50" x2="213.20" y2="537.50" stroke="#FF0000" stroke-width="3" stroke-linecap="round"/>
<path d="M189.85,531.88 L196.10,543.12 L183.60,543.12Z" fill="#FF0000"/>
<text x="219.31" y="543.90" font-size="19.2" letter-spacing="0.24" fill="#000">(R)-PED</text>
<line x1="166.50" y1="564.40" x2="213.20" y2="564.40" stroke="#5B9BD5" stroke-width="3" stroke-linecap="round"/>
<path d="M189.85,558.77 L196.10,570.02 L183.60,570.02Z" fill="#5B9BD5"/>
<text x="219.62" y="570.80" font-size="19.2" letter-spacing="0.24" fill="#000">Styrene</text>
<line x1="166.50" y1="591.30" x2="213.20" y2="591.30" stroke="#FFC000" stroke-width="3" stroke-linecap="round"/>
<circle cx="189.85" cy="591.30" r="5.75" fill="#FFC000"/>
<text x="219.31" y="597.70" font-size="19.2" letter-spacing="0.24" fill="#000">(S)-Styrene Oxide</text>
<path d="M98.00,957.60 H584.20 V1319.50 H98.00 Z" fill="none" stroke="#000" stroke-width="2.3"/>
<line x1="92.20" y1="1319.50" x2="98.00" y2="1319.50" stroke="#000" stroke-width="2.3" stroke-linecap="butt"/>
<line x1="92.20" y1="1247.12" x2="98.00" y2="1247.12" stroke="#000" stroke-width="2.3" stroke-linecap="butt"/>
<line x1="92.20" y1="1174.74" x2="98.00" y2="1174.74" stroke="#000" stroke-width="2.3" stroke-linecap="butt"/>
<line x1="92.20" y1="1102.36" x2="98.00" y2="1102.36" stroke="#000" stroke-width="2.3" stroke-linecap="butt"/>
<line x1="92.20" y1="1029.98" x2="98.00" y2="1029.98" stroke="#000" stroke-width="2.3" stroke-linecap="butt"/>
<line x1="92.20" y1="957.60" x2="98.00" y2="957.60" stroke="#000" stroke-width="2.3" stroke-linecap="butt"/>
<line x1="98.00" y1="1319.50" x2="98.00" y2="1325.30" stroke="#000" stroke-width="2.3" stroke-linecap="butt"/>
<line x1="195.24" y1="1319.50" x2="195.24" y2="1325.30" stroke="#000" stroke-width="2.3" stroke-linecap="butt"/>
<line x1="292.48" y1="1319.50" x2="292.48" y2="1325.30" stroke="#000" stroke-width="2.3" stroke-linecap="butt"/>
<line x1="389.72" y1="1319.50" x2="389.72" y2="1325.30" stroke="#000" stroke-width="2.3" stroke-linecap="butt"/>
<line x1="486.96" y1="1319.50" x2="486.96" y2="1325.30" stroke="#000" stroke-width="2.3" stroke-linecap="butt"/>
<line x1="584.20" y1="1319.50" x2="584.20" y2="1325.30" stroke="#000" stroke-width="2.3" stroke-linecap="butt"/>
<clipPath id="cc"><rect x="96.85" y="957.60" width="488.50" height="361.90"/></clipPath>
<g clip-path="url(#cc)">
<line x1="136.64" y1="1247.70" x2="136.64" y2="1262.18" stroke="#333333" stroke-width="2" stroke-linecap="butt"/>
<line x1="131.14" y1="1247.70" x2="142.14" y2="1247.70" stroke="#333333" stroke-width="2" stroke-linecap="butt"/>
<line x1="131.14" y1="1262.18" x2="142.14" y2="1262.18" stroke="#333333" stroke-width="2" stroke-linecap="butt"/>
<line x1="214.52" y1="1218.60" x2="214.52" y2="1236.26" stroke="#333333" stroke-width="2" stroke-linecap="butt"/>
<line x1="209.02" y1="1218.60" x2="220.02" y2="1218.60" stroke="#333333" stroke-width="2" stroke-linecap="butt"/>
<line x1="209.02" y1="1236.26" x2="220.02" y2="1236.26" stroke="#333333" stroke-width="2" stroke-linecap="butt"/>
<line x1="292.40" y1="1198.34" x2="292.40" y2="1221.21" stroke="#333333" stroke-width="2" stroke-linecap="butt"/>
<line x1="286.90" y1="1198.34" x2="297.90" y2="1198.34" stroke="#333333" stroke-width="2" stroke-linecap="butt"/>
<line x1="286.90" y1="1221.21" x2="297.90" y2="1221.21" stroke="#333333" stroke-width="2" stroke-linecap="butt"/>
<line x1="428.69" y1="1174.88" x2="428.69" y2="1200.07" stroke="#333333" stroke-width="2" stroke-linecap="butt"/>
<line x1="423.19" y1="1174.88" x2="434.19" y2="1174.88" stroke="#333333" stroke-width="2" stroke-linecap="butt"/>
<line x1="423.19" y1="1200.07" x2="434.19" y2="1200.07" stroke="#333333" stroke-width="2" stroke-linecap="butt"/>
<line x1="564.98" y1="1174.88" x2="564.98" y2="1200.07" stroke="#333333" stroke-width="2" stroke-linecap="butt"/>
<line x1="559.48" y1="1174.88" x2="570.48" y2="1174.88" stroke="#333333" stroke-width="2" stroke-linecap="butt"/>
<line x1="559.48" y1="1200.07" x2="570.48" y2="1200.07" stroke="#333333" stroke-width="2" stroke-linecap="butt"/>
</g>
<path d="M97.70,1319.50 C104.19,1308.74 117.17,1270.28 136.64,1254.94 C156.11,1239.59 188.56,1234.96 214.52,1227.43 C240.48,1219.91 256.70,1216.43 292.40,1209.77 C328.09,1203.11 383.26,1191.19 428.69,1187.48 C474.12,1183.76 542.26,1187.48 564.98,1187.48" fill="none" stroke="#7030A0" stroke-width="3.4" stroke-linejoin="round"/>
<rect x="91.70" y="1313.50" width="12" height="12" fill="#7030A0"/>
<rect x="130.64" y="1248.94" width="12" height="12" fill="#7030A0"/>
<rect x="208.52" y="1221.43" width="12" height="12" fill="#7030A0"/>
<rect x="286.40" y="1203.77" width="12" height="12" fill="#7030A0"/>
<rect x="422.69" y="1181.48" width="12" height="12" fill="#7030A0"/>
<rect x="558.98" y="1181.48" width="12" height="12" fill="#7030A0"/>
<g clip-path="url(#cc)">
<line x1="136.64" y1="1273.90" x2="136.64" y2="1287.22" stroke="#333333" stroke-width="2" stroke-linecap="butt"/>
<line x1="131.14" y1="1273.90" x2="142.14" y2="1273.90" stroke="#333333" stroke-width="2" stroke-linecap="butt"/>
<line x1="131.14" y1="1287.22" x2="142.14" y2="1287.22" stroke="#333333" stroke-width="2" stroke-linecap="butt"/>
<line x1="214.52" y1="1231.20" x2="214.52" y2="1250.88" stroke="#333333" stroke-width="2" stroke-linecap="butt"/>
<line x1="209.02" y1="1231.20" x2="220.02" y2="1231.20" stroke="#333333" stroke-width="2" stroke-linecap="butt"/>
<line x1="209.02" y1="1250.88" x2="220.02" y2="1250.88" stroke="#333333" stroke-width="2" stroke-linecap="butt"/>
<line x1="292.40" y1="1229.31" x2="292.40" y2="1252.77" stroke="#333333" stroke-width="2" stroke-linecap="butt"/>
<line x1="286.90" y1="1229.31" x2="297.90" y2="1229.31" stroke="#333333" stroke-width="2" stroke-linecap="butt"/>
<line x1="286.90" y1="1252.77" x2="297.90" y2="1252.77" stroke="#333333" stroke-width="2" stroke-linecap="butt"/>
<line x1="428.69" y1="1227.00" x2="428.69" y2="1255.08" stroke="#333333" stroke-width="2" stroke-linecap="butt"/>
<line x1="423.19" y1="1227.00" x2="434.19" y2="1227.00" stroke="#333333" stroke-width="2" stroke-linecap="butt"/>
<line x1="423.19" y1="1255.08" x2="434.19" y2="1255.08" stroke="#333333" stroke-width="2" stroke-linecap="butt"/>
<line x1="564.98" y1="1227.00" x2="564.98" y2="1255.08" stroke="#333333" stroke-width="2" stroke-linecap="butt"/>
<line x1="559.48" y1="1227.00" x2="570.48" y2="1227.00" stroke="#333333" stroke-width="2" stroke-linecap="butt"/>
<line x1="559.48" y1="1255.08" x2="570.48" y2="1255.08" stroke="#333333" stroke-width="2" stroke-linecap="butt"/>
</g>
<path d="M97.70,1319.50 C104.19,1313.01 117.17,1293.64 136.64,1280.56 C156.11,1267.48 188.56,1247.63 214.52,1241.04 C240.48,1234.45 256.70,1241.04 292.40,1241.04 C328.09,1241.04 383.26,1241.04 428.69,1241.04 C474.12,1241.04 542.26,1241.04 564.98,1241.04" fill="none" stroke="#FF0000" stroke-width="3.4" stroke-linejoin="round"/>
<path d="M97.70,1313.10 L104.30,1325.90 L91.10,1325.90Z" fill="#FF0000"/>
<path d="M136.64,1274.16 L143.24,1286.96 L130.04,1286.96Z" fill="#FF0000"/>
<path d="M214.52,1234.64 L221.12,1247.44 L207.92,1247.44Z" fill="#FF0000"/>
<path d="M292.40,1234.64 L299.00,1247.44 L285.80,1247.44Z" fill="#FF0000"/>
<path d="M428.69,1234.64 L435.29,1247.44 L422.09,1247.44Z" fill="#FF0000"/>
<path d="M564.98,1234.64 L571.58,1247.44 L558.38,1247.44Z" fill="#FF0000"/>
<g clip-path="url(#cc)">
<line x1="136.64" y1="1303.00" x2="136.64" y2="1307.92" stroke="#333333" stroke-width="2" stroke-linecap="butt"/>
<line x1="131.14" y1="1303.00" x2="142.14" y2="1303.00" stroke="#333333" stroke-width="2" stroke-linecap="butt"/>
<line x1="131.14" y1="1307.92" x2="142.14" y2="1307.92" stroke="#333333" stroke-width="2" stroke-linecap="butt"/>
<line x1="214.52" y1="1286.49" x2="214.52" y2="1293.44" stroke="#333333" stroke-width="2" stroke-linecap="butt"/>
<line x1="209.02" y1="1286.49" x2="220.02" y2="1286.49" stroke="#333333" stroke-width="2" stroke-linecap="butt"/>
<line x1="209.02" y1="1293.44" x2="220.02" y2="1293.44" stroke="#333333" stroke-width="2" stroke-linecap="butt"/>
<line x1="292.40" y1="1286.21" x2="292.40" y2="1293.73" stroke="#333333" stroke-width="2" stroke-linecap="butt"/>
<line x1="286.90" y1="1286.21" x2="297.90" y2="1286.21" stroke="#333333" stroke-width="2" stroke-linecap="butt"/>
<line x1="286.90" y1="1293.73" x2="297.90" y2="1293.73" stroke="#333333" stroke-width="2" stroke-linecap="butt"/>
<line x1="428.69" y1="1291.27" x2="428.69" y2="1298.22" stroke="#333333" stroke-width="2" stroke-linecap="butt"/>
<line x1="423.19" y1="1291.27" x2="434.19" y2="1291.27" stroke="#333333" stroke-width="2" stroke-linecap="butt"/>
<line x1="423.19" y1="1298.22" x2="434.19" y2="1298.22" stroke="#333333" stroke-width="2" stroke-linecap="butt"/>
<line x1="564.98" y1="1300.54" x2="564.98" y2="1303.43" stroke="#333333" stroke-width="2" stroke-linecap="butt"/>
<line x1="559.48" y1="1300.54" x2="570.48" y2="1300.54" stroke="#333333" stroke-width="2" stroke-linecap="butt"/>
<line x1="559.48" y1="1303.43" x2="570.48" y2="1303.43" stroke="#333333" stroke-width="2" stroke-linecap="butt"/>
</g>
<path d="M97.70,1319.50 C104.19,1317.16 117.17,1310.38 136.64,1305.46 C156.11,1300.54 188.56,1292.55 214.52,1289.97 C240.48,1287.39 256.70,1289.17 292.40,1289.97 C328.09,1290.77 383.26,1292.74 428.69,1294.75 C474.12,1296.75 542.26,1300.78 564.98,1301.98" fill="none" stroke="#5B9BD5" stroke-width="3.4" stroke-linejoin="round"/>
<path d="M97.70,1313.10 L104.30,1325.90 L91.10,1325.90Z" fill="#5B9BD5"/>
<path d="M136.64,1299.06 L143.24,1311.86 L130.04,1311.86Z" fill="#5B9BD5"/>
<path d="M214.52,1283.57 L221.12,1296.37 L207.92,1296.37Z" fill="#5B9BD5"/>
<path d="M292.40,1283.57 L299.00,1296.37 L285.80,1296.37Z" fill="#5B9BD5"/>
<path d="M428.69,1288.34 L435.29,1301.15 L422.09,1301.15Z" fill="#5B9BD5"/>
<path d="M564.98,1295.58 L571.58,1308.39 L558.38,1308.39Z" fill="#5B9BD5"/>
<g clip-path="url(#cc)">
<line x1="97.70" y1="925.61" x2="97.70" y2="993.07" stroke="#333333" stroke-width="2" stroke-linecap="butt"/>
<line x1="92.20" y1="925.61" x2="103.20" y2="925.61" stroke="#333333" stroke-width="2" stroke-linecap="butt"/>
<line x1="92.20" y1="993.07" x2="103.20" y2="993.07" stroke="#333333" stroke-width="2" stroke-linecap="butt"/>
<line x1="136.64" y1="1101.93" x2="136.64" y2="1141.59" stroke="#333333" stroke-width="2" stroke-linecap="butt"/>
<line x1="131.14" y1="1101.93" x2="142.14" y2="1101.93" stroke="#333333" stroke-width="2" stroke-linecap="butt"/>
<line x1="131.14" y1="1141.59" x2="142.14" y2="1141.59" stroke="#333333" stroke-width="2" stroke-linecap="butt"/>
<line x1="214.52" y1="1203.11" x2="214.52" y2="1224.83" stroke="#333333" stroke-width="2" stroke-linecap="butt"/>
<line x1="209.02" y1="1203.11" x2="220.02" y2="1203.11" stroke="#333333" stroke-width="2" stroke-linecap="butt"/>
<line x1="209.02" y1="1224.83" x2="220.02" y2="1224.83" stroke="#333333" stroke-width="2" stroke-linecap="butt"/>
<line x1="292.40" y1="1247.99" x2="292.40" y2="1260.15" stroke="#333333" stroke-width="2" stroke-linecap="butt"/>
<line x1="286.90" y1="1247.99" x2="297.90" y2="1247.99" stroke="#333333" stroke-width="2" stroke-linecap="butt"/>
<line x1="286.90" y1="1260.15" x2="297.90" y2="1260.15" stroke="#333333" stroke-width="2" stroke-linecap="butt"/>
<line x1="428.69" y1="1248.42" x2="428.69" y2="1260.29" stroke="#333333" stroke-width="2" stroke-linecap="butt"/>
<line x1="423.19" y1="1248.42" x2="434.19" y2="1248.42" stroke="#333333" stroke-width="2" stroke-linecap="butt"/>
<line x1="423.19" y1="1260.29" x2="434.19" y2="1260.29" stroke="#333333" stroke-width="2" stroke-linecap="butt"/>
<line x1="564.98" y1="1249.15" x2="564.98" y2="1259.86" stroke="#333333" stroke-width="2" stroke-linecap="butt"/>
<line x1="559.48" y1="1249.15" x2="570.48" y2="1249.15" stroke="#333333" stroke-width="2" stroke-linecap="butt"/>
<line x1="559.48" y1="1259.86" x2="570.48" y2="1259.86" stroke="#333333" stroke-width="2" stroke-linecap="butt"/>
</g>
<path d="M97.70,959.34 C104.19,986.41 117.17,1079.32 136.64,1121.76 C156.11,1164.20 188.56,1191.92 214.52,1213.97 C240.48,1236.02 256.70,1247.34 292.40,1254.07 C328.09,1260.80 383.26,1254.29 428.69,1254.36 C474.12,1254.43 542.26,1254.48 564.98,1254.50" fill="none" stroke="#ED7D31" stroke-width="3.4" stroke-linejoin="round"/>
<path d="M97.70,952.54 L104.85,959.34 L97.70,966.13 L90.55,959.34Z" fill="#ED7D31"/>
<path d="M136.64,1114.97 L143.79,1121.76 L136.64,1128.55 L129.49,1121.76Z" fill="#ED7D31"/>
<path d="M214.52,1207.18 L221.67,1213.97 L214.52,1220.76 L207.37,1213.97Z" fill="#ED7D31"/>
<path d="M292.40,1247.28 L299.55,1254.07 L292.40,1260.86 L285.25,1254.07Z" fill="#ED7D31"/>
<path d="M428.69,1247.57 L435.84,1254.36 L428.69,1261.15 L421.54,1254.36Z" fill="#ED7D31"/>
<path d="M564.98,1247.71 L572.13,1254.50 L564.98,1261.30 L557.83,1254.50Z" fill="#ED7D31"/>
<g clip-path="url(#cc)">
</g>
<path d="M97.70,1319.50 C104.19,1319.50 117.17,1319.50 136.64,1319.50 C156.11,1319.50 188.56,1319.50 214.52,1319.50 C240.48,1319.50 256.70,1319.50 292.40,1319.50 C328.09,1319.50 383.26,1319.50 428.69,1319.50 C474.12,1319.50 542.26,1319.50 564.98,1319.50" fill="none" stroke="#FFC000" stroke-width="2.3" stroke-linejoin="round"/>
<circle cx="97.70" cy="1319.50" r="6.80" fill="#FFC000"/>
<circle cx="136.64" cy="1319.50" r="6.80" fill="#FFC000"/>
<circle cx="214.52" cy="1319.50" r="6.80" fill="#FFC000"/>
<circle cx="292.40" cy="1319.50" r="6.80" fill="#FFC000"/>
<circle cx="428.69" cy="1319.50" r="6.80" fill="#FFC000"/>
<circle cx="564.98" cy="1319.50" r="6.80" fill="#FFC000"/>
<text x="69.52" y="1324.68" font-size="19.7" fill="#000">0</text>
<text x="47.20" y="1252.30" font-size="19.7" fill="#000">5</text>
<text x="58.36" y="1252.30" font-size="19.7" fill="#000">0</text>
<text x="69.52" y="1252.30" font-size="19.7" fill="#000">0</text>
<path transform="translate(36.05,1179.92) scale(19.7)" d="M0.381,0 V-0.716 H0.323 Q0.29,-0.64 0.109,-0.545 V-0.458 Q0.21,-0.5 0.291,-0.566 V0 Z" fill="#000" stroke="#000" stroke-width="0.0102"/>
<text x="47.20" y="1179.92" font-size="19.7" fill="#000">0</text>
<text x="58.36" y="1179.92" font-size="19.7" fill="#000">0</text>
<text x="69.52" y="1179.92" font-size="19.7" fill="#000">0</text>
<path transform="translate(36.05,1107.54) scale(19.7)" d="M0.381,0 V-0.716 H0.323 Q0.29,-0.64 0.109,-0.545 V-0.458 Q0.21,-0.5 0.291,-0.566 V0 Z" fill="#000" stroke="#000" stroke-width="0.0102"/>
<text x="47.20" y="1107.54" font-size="19.7" fill="#000">5</text>
<text x="58.36" y="1107.54" font-size="19.7" fill="#000">0</text>
<text x="69.52" y="1107.54" font-size="19.7" fill="#000">0</text>
<text x="36.05" y="1035.16" font-size="19.7" fill="#000">2</text>
<text x="47.20" y="1035.16" font-size="19.7" fill="#000">0</text>
<text x="58.36" y="1035.16" font-size="19.7" fill="#000">0</text>
<text x="69.52" y="1035.16" font-size="19.7" fill="#000">0</text>
<text x="36.05" y="962.78" font-size="19.7" fill="#000">2</text>
<text x="47.20" y="962.78" font-size="19.7" fill="#000">5</text>
<text x="58.36" y="962.78" font-size="19.7" fill="#000">0</text>
<text x="69.52" y="962.78" font-size="19.7" fill="#000">0</text>
<text x="92.52" y="1349.05" font-size="19.7" fill="#000">0</text>
<text x="189.78" y="1349.05" font-size="19.7" fill="#000">5</text>
<path transform="translate(280.74,1349.05) scale(19.7)" d="M0.381,0 V-0.716 H0.323 Q0.29,-0.64 0.109,-0.545 V-0.458 Q0.21,-0.5 0.291,-0.566 V0 Z" fill="#000" stroke="#000" stroke-width="0.0102"/>
<text x="291.89" y="1349.05" font-size="19.7" fill="#000">0</text>
<path transform="translate(378.01,1349.05) scale(19.7)" d="M0.381,0 V-0.716 H0.323 Q0.29,-0.64 0.109,-0.545 V-0.458 Q0.21,-0.5 0.291,-0.566 V0 Z" fill="#000" stroke="#000" stroke-width="0.0102"/>
<text x="389.16" y="1349.05" font-size="19.7" fill="#000">5</text>
<text x="475.80" y="1349.05" font-size="19.7" fill="#000">2</text>
<text x="486.95" y="1349.05" font-size="19.7" fill="#000">0</text>
<text x="573.07" y="1349.05" font-size="19.7" fill="#000">2</text>
<text x="584.22" y="1349.05" font-size="19.7" fill="#000">5</text>
<line x1="177.10" y1="984.30" x2="223.80" y2="984.30" stroke="#7030A0" stroke-width="3" stroke-linecap="round"/>
<rect x="195.45" y="979.30" width="10" height="10" fill="#7030A0"/>
<text x="229.41" y="990.90" font-size="19.2" letter-spacing="0.24" fill="#000">(R)-MA</text>
<line x1="177.10" y1="1009.60" x2="223.80" y2="1009.60" stroke="#FF0000" stroke-width="3" stroke-linecap="round"/>
<path d="M200.45,1003.97 L206.70,1015.22 L194.20,1015.22Z" fill="#FF0000"/>
<text x="229.41" y="1016.20" font-size="19.2" letter-spacing="0.24" fill="#000">(R)-PED</text>
<line x1="177.10" y1="1034.90" x2="223.80" y2="1034.90" stroke="#5B9BD5" stroke-width="3" stroke-linecap="round"/>
<path d="M200.45,1029.27 L206.70,1040.52 L194.20,1040.52Z" fill="#5B9BD5"/>
<text x="229.72" y="1041.50" font-size="19.2" letter-spacing="0.24" fill="#000">Styrene</text>
<line x1="177.10" y1="1060.20" x2="223.80" y2="1060.20" stroke="#ED7D31" stroke-width="3" stroke-linecap="round"/>
<path d="M200.45,1054.03 L206.95,1060.20 L200.45,1066.38 L193.95,1060.20Z" fill="#ED7D31"/>
<text x="229.03" y="1066.80" font-size="19.2" letter-spacing="0.24" fill="#000">L-Phe</text>
<line x1="177.10" y1="1085.50" x2="223.80" y2="1085.50" stroke="#FFC000" stroke-width="3" stroke-linecap="round"/>
<circle cx="200.45" cy="1085.50" r="5.90" fill="#FFC000"/>
<text x="229.41" y="1092.10" font-size="19.2" letter-spacing="0.24" fill="#000">(S)-Styrene Oxide</text>
<text x="1.85" y="15.60" font-size="26" font-weight="bold" fill="#000">a</text>
<text x="1.08" y="460.80" font-size="26" font-weight="bold" fill="#000">b</text>
<text x="2.99" y="917.60" font-size="26" font-weight="bold" fill="#000">c</text>
<text x="296.72" y="451.60" font-size="22" letter-spacing="0.12" fill="#000">Time (h)</text>
<text x="299.82" y="923.70" font-size="22" letter-spacing="0.12" fill="#000">Time (h)</text>
<text x="301.12" y="1382.50" font-size="22" letter-spacing="0.12" fill="#000">Time (h)</text>
<text transform="translate(19.50,326.72) rotate(-90)" font-size="22" letter-spacing="0.19" fill="#000">Concentration (mg/L)</text>
<text transform="translate(20.80,769.82) rotate(-90)" font-size="22" letter-spacing="0.19" fill="#000">Concentration (mg/L)</text>
<text transform="translate(23.80,1248.02) rotate(-90)" font-size="22" letter-spacing="0.19" fill="#000">Concentration (mg/L)</text>
</g>
</svg>
</body></html>
